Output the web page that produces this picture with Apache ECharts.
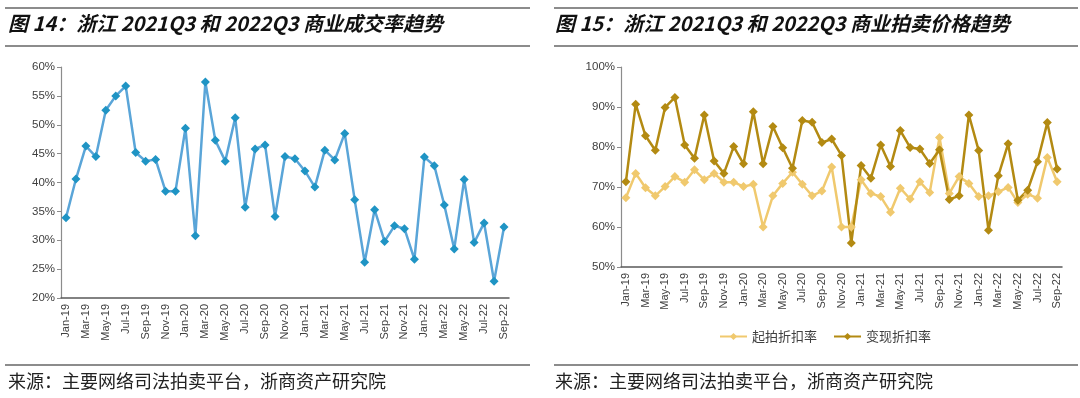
<!DOCTYPE html>
<html>
<head>
<meta charset="utf-8">
<script src="https://cdn.jsdelivr.net/npm/echarts@6/dist/echarts.min.js"></script>
<style>
  html, body { margin: 0; padding: 0; background: #fff; }
  #main { width: 1080px; height: 398px; }
</style>
</head>
<body>
<div id="main"></div>
<script>
// 月份 Jan-19 ~ Sep-22
const months = ['Jan-19','Feb-19','Mar-19','Apr-19','May-19','Jun-19','Jul-19','Aug-19','Sep-19','Oct-19','Nov-19','Dec-19',
  'Jan-20','Feb-20','Mar-20','Apr-20','May-20','Jun-20','Jul-20','Aug-20','Sep-20','Oct-20','Nov-20','Dec-20',
  'Jan-21','Feb-21','Mar-21','Apr-21','May-21','Jun-21','Jul-21','Aug-21','Sep-21','Oct-21','Nov-21','Dec-21',
  'Jan-22','Feb-22','Mar-22','Apr-22','May-22','Jun-22','Jul-22','Aug-22','Sep-22']

// 图14 成交率 (%)
const dealRate = [33.9, 40.6, 46.3, 44.5, 52.5, 55.0, 56.7, 45.2, 43.7, 44.0, 38.5, 38.5,
  49.4, 30.8, 57.4, 47.3, 43.7, 51.2, 35.7, 45.8, 46.5, 34.1, 44.5, 44.1,
  42.0, 39.2, 45.6, 43.9, 48.5, 37.0, 26.2, 35.3, 29.8, 32.5, 32.0, 26.7,
  44.4, 42.9, 36.1, 28.5, 40.5, 29.6, 33.0, 22.9, 32.3]

// 图15 起拍折扣率 / 变现折扣率 (%)
const startDiscount = [67.3, 73.4, 69.8, 67.8, 70.1, 72.6, 71.2, 74.3, 71.8, 73.4, 71.2, 71.2,
  70.1, 70.7, 60.0, 67.8, 70.9, 73.7, 70.7, 67.8, 69.0, 75.0, 60.0, 60.0,
  71.8, 68.4, 67.6, 63.7, 69.7, 67.0, 71.3, 68.6, 82.4, 68.4, 72.6, 70.9,
  67.6, 67.8, 68.8, 69.9, 66.1, 68.2, 67.2, 77.4, 71.3]
const cashDiscount = [71.3, 90.7, 82.8, 79.2, 89.9, 92.4, 80.5, 77.2, 88.0, 76.5, 73.4, 80.1,
  75.8, 88.8, 75.8, 85.1, 79.8, 74.7, 86.6, 86.2, 81.1, 82.0, 77.9, 56.0,
  75.4, 72.2, 80.5, 75.1, 84.1, 79.9, 79.5, 75.9, 79.3, 66.9, 67.8, 88.0,
  79.1, 59.2, 72.8, 80.8, 66.7, 69.2, 76.3, 86.1, 74.5]

const chart = echarts.init(document.getElementById('main'))

const axisLabelFont = { fontFamily: 'Liberation Sans, Arial, sans-serif', fontSize: 11, color: '#404040' }
const cjk = '"Noto Sans CJK SC", sans-serif'

// 公共坐标轴样式
const xAxisBase = (gridIndex) => ({
  type: 'category',
  gridIndex,
  data: months,
  boundaryGap: true,
  axisLine: { lineStyle: { color: '#595959', width: 1.5 } },
  axisTick: { interval: 1, length: 4, lineStyle: { color: '#595959' } },
  axisLabel: { interval: 1, rotate: 90, margin: 6, ...axisLabelFont }
})

const yAxisBase = (gridIndex, min, max, interval) => ({
  type: 'value',
  gridIndex,
  min, max, interval,
  axisLine: { show: true, lineStyle: { color: '#8c8c8c', width: 1.2 } },
  axisTick: { show: true, length: 4, lineStyle: { color: '#8c8c8c' } },
  splitLine: { show: false },
  axisLabel: { margin: 6, formatter: '{value}%', ...axisLabelFont, fontSize: 11.5 }
})

const rule = (x1, x2, y) => ({
  type: 'line',
  shape: { x1, y1: y, x2, y2: y },
  style: { stroke: '#8c8c8c', lineWidth: 2 }
})

const titleText = (x, text) => ({
  type: 'text',
  left: x, top: 13,
  style: { text, font: 'italic bold 20px ' + cjk, fill: '#111' }
})

const sourceText = (x) => ({
  type: 'text',
  left: x, top: 372,
  style: { text: '来源：主要网络司法拍卖平台，浙商资产研究院', font: '18px ' + cjk, fill: '#222' }
})

const lineSeries = (name, gridIndex, data, lineColor, markColor) => ({
  name, type: 'line',
  xAxisIndex: gridIndex, yAxisIndex: gridIndex,
  data,
  symbol: 'diamond', symbolSize: 9,
  showAllSymbol: true,
  lineStyle: { color: lineColor, width: 2.5 },
  itemStyle: { color: markColor }
})

chart.setOption({
  animation: false,
  grid: [
    { left: 61, top: 67, width: 448, height: 231 },
    { left: 621, top: 67, width: 441, height: 200 }
  ],
  xAxis: [xAxisBase(0), xAxisBase(1)],
  yAxis: [yAxisBase(0, 20, 60, 5), yAxisBase(1, 50, 100, 10)],
  legend: {
    left: 714, top: 325,
    itemWidth: 27, itemHeight: 9, itemGap: 16,
    textStyle: { fontFamily: cjk, fontSize: 13, color: '#404040' },
    data: ['起拍折扣率', '变现折扣率']
  },
  series: [
    lineSeries('成交率', 0, dealRate, '#5aa5d8', '#1f94c4'),
    lineSeries('起拍折扣率', 1, startDiscount, '#f0c96e', '#f0c96e'),
    lineSeries('变现折扣率', 1, cashDiscount, '#b38a12', '#b38a12')
  ],
  graphic: [
    rule(5, 530, 8), rule(5, 530, 46), rule(5, 530, 365),
    rule(554, 1078, 8), rule(554, 1078, 46), rule(554, 1078, 365),
    titleText(8, '图 14：浙江 2021Q3 和 2022Q3 商业成交率趋势'),
    titleText(555, '图 15：浙江 2021Q3 和 2022Q3 商业拍卖价格趋势'),
    sourceText(8),
    sourceText(555)
  ]
})
</script>
</body>
</html>
